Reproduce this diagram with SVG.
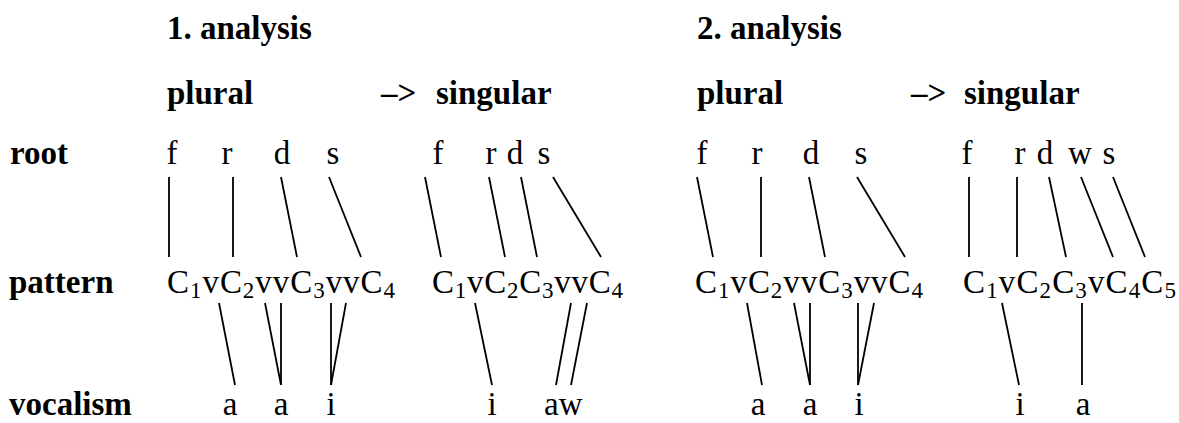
<svg xmlns="http://www.w3.org/2000/svg" width="1179" height="423" viewBox="0 0 1179 423">
<style>
text{font-family:"Liberation Serif","Times New Roman",serif;font-size:33px;fill:#000}
.b{font-weight:bold}
.m{text-anchor:middle}
.sub{font-size:23px}
#connectors line{stroke:#000;stroke-width:1.8;stroke-linecap:butt}
</style>
<rect width="1179" height="423" fill="#fff"/>
<g id="headings">
<text class="b" x="167" y="39">1. analysis</text>
<text class="b" x="167" y="104">plural</text>
<text class="b" x="381" y="104">–&gt;</text>
<text class="b" x="436" y="104">singular</text>
<text class="b" x="697" y="39">2. analysis</text>
<text class="b" x="697" y="104">plural</text>
<text class="b" x="911" y="104">–&gt;</text>
<text class="b" x="964" y="104">singular</text>
</g>
<g id="row-labels">
<text class="b" x="10" y="164">root</text>
<text class="b" x="9" y="293">pattern</text>
<text class="b" x="9" y="415">vocalism</text>
</g>
<g id="root-1-plural">
<text class="m" x="172" y="164">f</text>
<text class="m" x="227" y="164">r</text>
<text class="m" x="282" y="164">d</text>
<text class="m" x="333" y="164">s</text>
</g>
<g id="root-1-singular">
<text class="m" x="438" y="164">f</text>
<text class="m" x="491" y="164">r</text>
<text class="m" x="515" y="164">d</text>
<text class="m" x="544" y="164">s</text>
</g>
<g id="root-2-plural">
<text class="m" x="702" y="164">f</text>
<text class="m" x="757" y="164">r</text>
<text class="m" x="811" y="164">d</text>
<text class="m" x="861" y="164">s</text>
</g>
<g id="root-2-singular">
<text class="m" x="967" y="164">f</text>
<text class="m" x="1020" y="164">r</text>
<text class="m" x="1045" y="164">d</text>
<text class="m" x="1080" y="164">w</text>
<text class="m" x="1109" y="164">s</text>
</g>
<g id="pattern-1-plural">
<text x="167" y="293" textLength="228" lengthAdjust="spacing">C<tspan class="sub" dy="5">1</tspan><tspan dy="-5">v</tspan>C<tspan class="sub" dy="5">2</tspan><tspan dy="-5">vv</tspan>C<tspan class="sub" dy="5">3</tspan><tspan dy="-5">vv</tspan>C<tspan class="sub" dy="5">4</tspan></text>
</g>
<g id="pattern-1-singular">
<text x="432" y="293" textLength="191" lengthAdjust="spacing">C<tspan class="sub" dy="5">1</tspan><tspan dy="-5">v</tspan>C<tspan class="sub" dy="5">2</tspan><tspan dy="-5">C</tspan><tspan class="sub" dy="5">3</tspan><tspan dy="-5">vv</tspan>C<tspan class="sub" dy="5">4</tspan></text>
</g>
<g id="pattern-2-plural">
<text x="695" y="293" textLength="228" lengthAdjust="spacing">C<tspan class="sub" dy="5">1</tspan><tspan dy="-5">v</tspan>C<tspan class="sub" dy="5">2</tspan><tspan dy="-5">vv</tspan>C<tspan class="sub" dy="5">3</tspan><tspan dy="-5">vv</tspan>C<tspan class="sub" dy="5">4</tspan></text>
</g>
<g id="pattern-2-singular">
<text x="963" y="293" textLength="213" lengthAdjust="spacing">C<tspan class="sub" dy="5">1</tspan><tspan dy="-5">v</tspan>C<tspan class="sub" dy="5">2</tspan><tspan dy="-5">C</tspan><tspan class="sub" dy="5">3</tspan><tspan dy="-5">v</tspan>C<tspan class="sub" dy="5">4</tspan><tspan dy="-5">C</tspan><tspan class="sub" dy="5">5</tspan></text>
</g>
<g id="vocalism-1-plural">
<text class="m" x="230" y="415">a</text>
<text class="m" x="281" y="415">a</text>
<text class="m" x="331" y="415">i</text>
</g>
<g id="vocalism-1-singular">
<text class="m" x="492" y="415">i</text>
<text x="544" y="415">aw</text>
</g>
<g id="vocalism-2-plural">
<text class="m" x="758" y="415">a</text>
<text class="m" x="810" y="415">a</text>
<text class="m" x="859" y="415">i</text>
</g>
<g id="vocalism-2-singular">
<text class="m" x="1020" y="415">i</text>
<text class="m" x="1083" y="415">a</text>
</g>
<g id="connectors">
<line x1="169" y1="177" x2="169" y2="257"/>
<line x1="233" y1="177" x2="233" y2="257"/>
<line x1="281" y1="177" x2="297" y2="257"/>
<line x1="329" y1="177" x2="361" y2="257"/>
<line x1="425" y1="177" x2="441" y2="257"/>
<line x1="489" y1="177" x2="505" y2="257"/>
<line x1="521" y1="177" x2="537" y2="257"/>
<line x1="553" y1="177" x2="601" y2="257"/>
<line x1="697" y1="177" x2="713" y2="257"/>
<line x1="761" y1="177" x2="761" y2="257"/>
<line x1="809" y1="177" x2="825" y2="257"/>
<line x1="857" y1="177" x2="905" y2="257"/>
<line x1="969" y1="177" x2="969" y2="257"/>
<line x1="1017" y1="177" x2="1017" y2="257"/>
<line x1="1049" y1="177" x2="1066" y2="257"/>
<line x1="1081" y1="177" x2="1113" y2="257"/>
<line x1="1113" y1="177" x2="1145" y2="257"/>
<line x1="219" y1="303" x2="235" y2="385"/>
<line x1="265" y1="303" x2="281" y2="385"/>
<line x1="281" y1="303" x2="281" y2="385"/>
<line x1="331" y1="303" x2="331" y2="385"/>
<line x1="346" y1="303" x2="331" y2="385"/>
<line x1="475" y1="303" x2="492" y2="385"/>
<line x1="571" y1="303" x2="556" y2="385"/>
<line x1="587" y1="303" x2="571" y2="385"/>
<line x1="747" y1="303" x2="762" y2="385"/>
<line x1="794" y1="303" x2="810" y2="385"/>
<line x1="810" y1="303" x2="810" y2="385"/>
<line x1="858" y1="303" x2="858" y2="385"/>
<line x1="874" y1="303" x2="858" y2="385"/>
<line x1="1002" y1="303" x2="1019" y2="385"/>
<line x1="1082" y1="303" x2="1082" y2="385"/>
</g>
</svg>
